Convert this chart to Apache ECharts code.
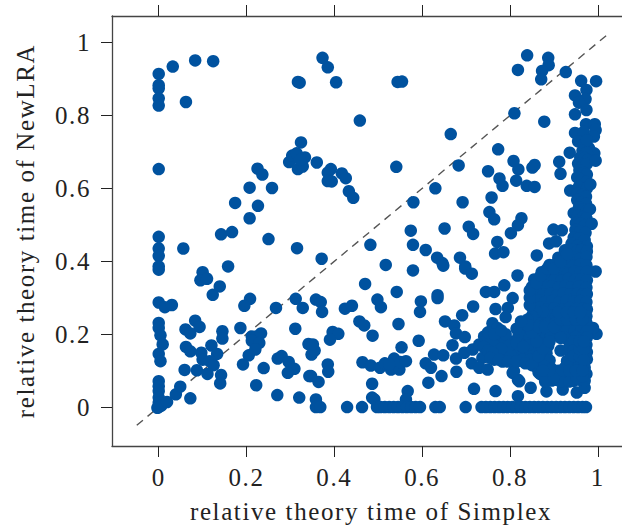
<!DOCTYPE html>
<html>
<head>
<meta charset="utf-8">
<title>relative theory time</title>
<script src="https://cdn.jsdelivr.net/npm/echarts@6/dist/echarts.min.js"></script>
<style>
html, body { margin: 0; padding: 0; background: #fff; }
#chart { width: 622px; height: 529px; }
/* the original font runs wider than anything installed */
#chart svg text { letter-spacing: 1.6px; }
</style>
</head>
<body>
<div id="chart"></div>
<script>
// tick labels
var tickValues = [0, 0.2, 0.4, 0.6, 0.8, 1]
var diagonal = [[-0.05, -0.05], [1.02, 1.02]]

// [simplex, newlra]
var leftColumn = [[0,.914],[0,.883],[0,.874],[0,.847],[0,.827],[0,.653],[0,.467],[0,.435],[0,.415],[0,.386],[0,.377],[0,.287],
  [0,.231],[0,.217],[.004,.197],[.009,.172],[0,.146],[.004,.126],[0,.071],[0,.057],[0,.044],[0,.026],[0,.012],[0,0],[-.003,-.002],[.006,.004]]

var leftPoints = [[.032,.934],[.083,.951],[.124,.949],[.062,.837],[.056,.435],[.158,.386],[.142,.474],[.167,.48],[.174,.56],
  [.207,.602],[.225,.654],[.236,.638],[.258,.601],[.226,.552],[.207,.518],[.25,.461],[.315,.436],
  [.317,.892],[.321,.89],[.324,.726],[.297,.672],[.304,.69],[.314,.696],[.333,.685],[.317,.653],[.328,.66],[.322,.678],
  [.1,.37],[.095,.348],[.11,.352],[.139,.331],[.123,.308],[.014,.274],[.03,.28],[.208,.297],[.195,.278],[.267,.272],[.312,.297],[.328,.272],
  [.061,.213],[.072,.202],[.083,.237],[.093,.22],[.062,.165],[.072,.153],[.145,.208],[.145,.188],[.186,.217],[.12,.169],[.097,.149],[.1,.13],
  [.133,.146],[.116,.126],[.125,.115],[.087,.101],[.059,.102],[.111,.091],[.142,.088],[.14,.065],[.212,.194],[.223,.194],[.233,.202],[.212,.182],
  [.229,.176],[.22,.158],[.205,.142],[.192,.117],[.239,.107],[.222,.06],[.271,.133],[.28,.14],[.296,.124],[.309,.105],[.294,.094],[.311,.215],
  [.341,.173],[.348,.144],[.343,.085],[.27,.033],[.32,.026],[.019,.014],[.039,.035],[.049,.056],[.072,.024]]

var middlePoints = [[.373,.958],[.385,.932],[.404,.891],[.544,.892],[.554,.893],[.458,.786],[.36,.671],[.392,.653],[.385,.643],[.385,.62],[.394,.619],
  [.417,.641],[.426,.628],[.433,.592],[.443,.574],[.541,.659],[.683,.663],[.665,.749],[.773,.707],[.63,.6],[.58,.562],[.692,.562],[.758,.575],
  [.753,.535],[.764,.515],[.574,.484],[.651,.49],[.706,.495],[.716,.475],[.771,.453],[.766,.421],[.785,.425],[.686,.41],[.482,.445],[.579,.445],
  [.608,.431],[.634,.41],[.646,.395],[.517,.39],[.371,.407],[.698,.386],[.579,.375],[.648,.388],[.698,.38],[.713,.366],[.358,.295],[.369,.288],[.372,.261],
  [.47,.338],[.542,.316],[.424,.27],[.44,.278],[.498,.295],[.506,.274],[.597,.29],[.595,.261],[.635,.307],[.635,.299],[.745,.316],[.764,.316],[.787,.334],
  [.716,.276],[.691,.252],[.767,.269],[.795,.272],[.79,.247],[.457,.235],[.468,.224],[.546,.228],[.487,.196],[.652,.235],[.673,.224],[.677,.202],[.697,.192],
  [.592,.182],[.553,.164],[.396,.206],[.409,.201],[.39,.185],[.355,.155],[.351,.172],[.385,.117],[.386,.097],[.364,.069],[.347,.085],[.358,.021],
  [.486,.064],[.491,.021],[.486,.026],[.567,.044],[.563,.021],[.614,.067],[.678,.097],[.644,.085],[.608,.12],[.62,.108],[.627,.144],[.648,.142],[.669,.17],
  [.677,.133],[.696,.149],[.715,.158],[.73,.172],[.713,.12],[.737,.135],[.73,.108],[.749,.103],[.464,.123],[.483,.114],[.504,.108],[.515,.12],[.529,.103],
  [.536,.133],[.548,.103],[.55,.124],[.563,.126],[.525,.117],[.718,.05]]

var rightPoints = [[.839,.965],[.887,.958],[.888,.938],[.873,.922],[.818,.925],[.871,.899],[.927,.919],[.962,.895],[.996,.894],[.974,.87],[.948,.855],
  [.972,.845],[.957,.835],[.974,.815],[.948,.803],[.81,.806],[.878,.783],[.973,.776],[.993,.776],[.995,.76],[.948,.752],[.968,.755],[.991,.742],[.955,.729],
  [.936,.698],[.912,.673],[.915,.64],[.937,.594],[.808,.675],[.819,.652],[.75,.647],[.776,.627],[.783,.607],[.814,.621],[.838,.607],[.856,.604],[.851,.657],[.856,.664],
  [.826,.518],[.818,.499],[.802,.477],[.899,.487],[.918,.485],[.889,.449],[.905,.455],[.861,.416],[.995,.372],[.997,.201],[.989,.217],[.806,.299],[.817,.361],
  [.767,.044],[.818,.03],[.847,.053],[.883,.043],[.92,.048],[.952,.04],[.97,.053],[.806,.094],[.818,.075],[.809,.099],[.821,.071],[.915,.155]]

// the crowded column near 1
var upperColumn = [[.98,.71],[.992,.696],[.968,.72],[.975,.732],[.965,.703],[.975,.698],[.96,.685],[.97,.683],[.977,.678],[.955,.668],[.965,.662],[.975,.667],[.995,.676],
  [.958,.65],[.968,.643],[.975,.638],[.953,.63],[.962,.622],[.973,.618],[.957,.605],[.968,.598],[.975,.6],[.983,.611],[.953,.585],[.965,.582],[.973,.577],
  [.953,.568],[.963,.562],[.973,.558],[.945,.532],[.957,.548],[.967,.543],[.975,.538],[.982,.543],[.955,.525],[.965,.52],[.974,.518],[.95,.505],[.96,.503],[.97,.498],[.986,.503],
  [.949,.486],[.96,.482],[.972,.478],[.945,.465],[.957,.463],[.97,.458],[.94,.448],[.953,.442],[.965,.438],[.975,.441]]

var denseUpper = [[.925,.43],[.94,.433],[.952,.428],[.963,.431],[.975,.427],[.91,.41],[.923,.413],[.936,.408],[.948,.411],[.96,.407],[.974,.412],
  [.89,.39],[.905,.393],[.92,.388],[.933,.391],[.945,.387],[.96,.392],[.974,.389],[.872,.37],[.888,.373],[.902,.368],[.917,.371],[.932,.367],[.947,.372],[.96,.369],[.975,.371],
  [.855,.35],[.87,.353],[.886,.348],[.902,.351],[.917,.347],[.933,.352],[.948,.349],[.962,.351],[.975,.348],[.85,.33],[.865,.333],[.88,.328],[.895,.331],[.91,.327],[.926,.332],[.94,.329],[.957,.331],[.974,.328],
  [.85,.31],[.862,.313],[.877,.308],[.892,.311],[.907,.307],[.922,.312],[.937,.309],[.953,.311],[.965,.308],[.975,.31],[.85,.29],[.866,.293],[.88,.288],[.896,.291],[.912,.287],[.928,.292],[.945,.289],[.96,.291],[.974,.288],
  [.852,.27],[.868,.273],[.884,.268],[.9,.271],[.918,.267],[.935,.272],[.95,.269],[.965,.271],[.975,.268]]

var denseLower = [[.87,.25],[.888,.253],[.905,.248],[.925,.251],[.942,.247],[.96,.252],[.974,.249],[.85,.23],[.868,.233],[.885,.228],[.903,.231],[.92,.227],[.938,.232],[.955,.229],[.974,.231],
  [.835,.21],[.855,.213],[.875,.208],[.892,.211],[.91,.207],[.93,.212],[.947,.209],[.962,.211],[.975,.208],[.76,.23],[.771,.217],[.741,.194],[.775,.197],[.805,.18],[.832,.185],[.771,.167],[.794,.162],[.817,.158],
  [.767,.144],[.786,.14],[.809,.144],[.832,.149],[.764,.13],[.783,.125],[.805,.13],[.828,.13],[.79,.185],[.82,.2],[.845,.19],[.86,.193],[.88,.188],[.892,.191],[.935,.187],[.95,.192],[.962,.189],[.975,.191],
  [.858,.17],[.875,.173],[.887,.168],[.94,.167],[.955,.172],[.965,.169],[.974,.171],[.85,.15],[.87,.153],[.883,.148],[.938,.147],[.953,.152],[.965,.149],[.975,.151],
  [.855,.13],[.872,.133],[.89,.128],[.93,.127],[.945,.132],[.96,.129],[.975,.131],[.86,.11],[.878,.113],[.895,.105],[.91,.1],[.925,.108],[.94,.109],[.955,.111],[.97,.108],
  [.87,.09],[.885,.093],[.9,.088],[.915,.091],[.93,.087],[.945,.092],[.96,.089],[.974,.091],[.88,.07],[.895,.073],[.925,.075],[.945,.072],[.96,.075],[.97,.072],
  [.925,.19],[.915,.19],[.935,.165],[.93,.125],[.75,.19],[.76,.175],[.79,.2],[.815,.215],[.74,.165],[.8,.145],[.75,.155],[.845,.13],[.84,.17],[.825,.17]]

// gaps that looked too open against the reference
var denseFill = [[.75,.205],[.765,.2],[.78,.21],[.8,.17],[.815,.175],[.83,.165],[.78,.16],[.76,.15],[.755,.135],[.775,.13],[.795,.125],[.815,.125],[.835,.12],
  [.85,.115],[.865,.095],[.88,.08],[.905,.075],[.915,.07],[.935,.07],[.952,.08],[.965,.085],[.9,.082],[.92,.1],[.935,.1],[.95,.1],[.965,.1],[.89,.1],[.875,.1],
  [.865,.14],[.875,.16],[.86,.18],[.85,.205],[.865,.22],[.88,.22],[.86,.25],[.875,.262],[.86,.262],[.85,.25],[.84,.24],[.84,.225],[.825,.235],[.89,.18],[.945,.18],
  [.945,.155],[.945,.14],[.958,.14],[.958,.16],[.958,.18],[.968,.13],[.968,.16],[.968,.18],[.9,.22],[.915,.24],[.93,.24],[.95,.24],[.965,.24],[.91,.26],[.93,.26],[.945,.26],[.96,.26],
  [.845,.28],[.845,.3],[.845,.32],[.86,.34],[.87,.36],[.885,.38],[.9,.38],[.915,.4],[.93,.42]]

// the row at y = 0
var zeroRowX = [.358,.368,.429,.463,.497,.505,.515,.525,.535,.545,.555,.565,.575,.585,.595,.63,.64,.699,.735,.745,.755,.765,.775,.785,.795,.805,.815,.825,.835,.845,.855,.865,.875,.885,.895,.905,.915,.925,.935,.945,.955,.965,.973]

var textFont = 'Liberation Serif'
var textColor = '#222'
var frameColor = '#444'

var chart = echarts.init(document.getElementById('chart'), null, { renderer: 'svg' })

var allPoints = leftColumn.concat(leftPoints, middlePoints, rightPoints, upperColumn, denseUpper, denseLower, denseFill,
  zeroRowX.map(function (x) { return [x, 0] }))

function tickedAxis(extra, margin) {
  return Object.assign({
    type: 'value',
    splitLine: { show: false },
    axisLine: { show: true, onZero: false, lineStyle: { color: frameColor, width: 1.3 } },
    axisTick: { show: true, inside: false, length: 11, customValues: tickValues, lineStyle: { color: '#222', width: 1 } },
    axisLabel: { show: true, customValues: tickValues, margin: margin, color: textColor, fontFamily: textFont, fontSize: 25 },
    nameLocation: 'middle',
    nameTextStyle: { color: textColor, fontFamily: textFont, fontSize: 25 }
  }, extra)
}

var option = {
  animation: false,
  backgroundColor: '#fff',
  grid: { left: 112, top: 16, width: 511, height: 431, containLabel: false },
  xAxis: [
    tickedAxis({ min: -0.1064, max: 1.0550, position: 'bottom', name: 'relative theory time of Simplex', nameGap: 53, nameTextStyle: { color: textColor, fontFamily: textFont, fontSize: 25, padding: [0, 0, 0, 8] } }, 19),
    tickedAxis({ min: -0.1064, max: 1.0550, position: 'top', axisLabel: { show: false } }, 19)
  ],
  yAxis: [
    tickedAxis({ min: -0.1067, max: 1.0728, position: 'left', name: 'relative theory time of NewLRA', nameGap: 74 }, 21)
  ],
  series: [
    {
      type: 'line',
      xAxisIndex: 0,
      data: diagonal,
      symbol: 'none',
      z: 1,
      lineStyle: { color: '#555', width: 1.4, type: [8, 6] }
    },
    {
      type: 'scatter',
      xAxisIndex: 0,
      data: allPoints,
      symbolSize: 12.5,
      z: 2,
      itemStyle: { color: '#00529f', opacity: 1 }
    }
  ]
}
chart.setOption(option)
</script>
</body>
</html>
